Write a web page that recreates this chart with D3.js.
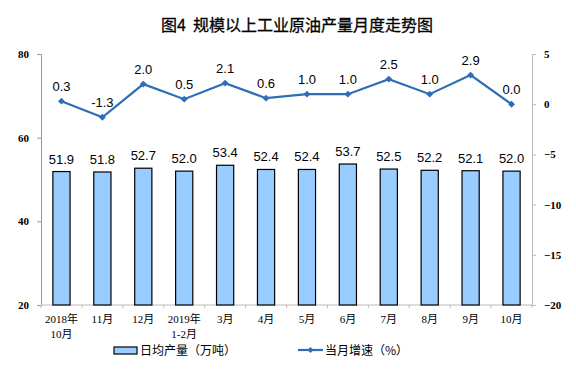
<!DOCTYPE html>
<html lang="zh">
<head>
<meta charset="UTF-8">
<title>图4 规模以上工业原油产量月度走势图</title>
<script src="https://d3js.org/d3.v7.min.js"></script>
<style>
  body { margin: 0; background: #fff; }
  .tick text { font-family: "Liberation Serif", "Noto Sans CJK SC", serif; font-size: 11px; font-weight: bold; }
</style>
</head>
<body>
<script>
// data
const months = ["2018年\n10月", "11月", "12月", "2019年\n1-2月", "3月", "4月", "5月", "6月", "7月", "8月", "9月", "10月"];
const output = [51.9, 51.8, 52.7, 52.0, 53.4, 52.4, 52.4, 53.7, 52.5, 52.2, 52.1, 52.0];
const growth = [0.3, -1.3, 2.0, 0.5, 2.1, 0.6, 1.0, 1.0, 2.5, 1.0, 2.9, 0.0];
const leftTicks = [20, 40, 60, 80];
const rightTicks = [5, 0, -5, -10, -15, -20];

const W = 576, H = 384;
const m = { left: 41, right: 44, top: 54, bottom: 79 };

const svg = d3.select("body").append("svg")
  .attr("width", W).attr("height", H);

const x = d3.scaleBand().domain(months).range([m.left, W - m.right]).paddingInner(0.58).paddingOuter(0.29);
const yL = d3.scaleLinear().domain([20, 80]).range([H - m.bottom, m.top]);
const yR = d3.scaleLinear().domain([-20, 5]).range([H - m.bottom, m.top]);

// title
svg.append("text")
  .attr("x", 297).attr("y", 31)
  .attr("text-anchor", "middle")
  .attr("font-family", "'Noto Sans CJK SC', sans-serif")
  .attr("font-size", 16).attr("font-weight", "normal")
  .attr("stroke", "#000").attr("stroke-width", 0.3)
  .text("图4\u00a0 规模以上工业原油产量月度走势图");

// left axis
const axL = svg.append("g").attr("transform", `translate(${m.left},0)`)
  .call(d3.axisLeft(yL).tickValues(leftTicks).tickSize(4).tickPadding(8));
axL.selectAll("path,line").attr("stroke", "#999");
axL.selectAll("text").attr("fill", "#000");

// right axis
const axR = svg.append("g").attr("transform", `translate(${W - m.right},0)`)
  .call(d3.axisRight(yR).tickValues(rightTicks).tickSize(4).tickPadding(8));
axR.selectAll("path,line").attr("stroke", "#bbb");
axR.selectAll("text").attr("fill", "#000");

// bottom axis
const axB = svg.append("g").attr("transform", `translate(0,${H - m.bottom})`);
axB.append("line").attr("x1", m.left).attr("x2", W - m.right).attr("stroke", "#bbb");
axB.selectAll("line.t").data(d3.range(months.length + 1)).join("line")
  .attr("class", "t")
  .attr("x1", i => m.left + i * (W - m.left - m.right) / months.length)
  .attr("x2", i => m.left + i * (W - m.left - m.right) / months.length)
  .attr("y1", 0).attr("y2", 3).attr("stroke", "#bbb");
axB.selectAll("text").data(months).join("text")
  .attr("x", d => x(d) + x.bandwidth() / 2)
  .attr("y", 18)
  .attr("text-anchor", "middle")
  .attr("font-family", "'Liberation Serif', 'Noto Sans CJK SC', serif")
  .attr("font-size", 11)
  .attr("font-weight", "normal")
  .each(function (d) {
    d.split("\n").forEach((s, i) => {
      d3.select(this).append("tspan")
        .attr("x", x(d) + x.bandwidth() / 2)
        .attr("dy", i === 0 ? 0 : 15)
        .text(s);
    });
  });

// bars
svg.selectAll("rect.bar").data(output).join("rect")
  .attr("class", "bar")
  .attr("x", (d, i) => x(months[i]))
  .attr("width", x.bandwidth())
  .attr("y", d => yL(d))
  .attr("height", d => yL(20) - yL(d))
  .attr("fill", "#99CCFF").attr("stroke", "#000").attr("stroke-width", 1.2);

svg.selectAll("text.bl").data(output).join("text")
  .attr("class", "bl")
  .attr("x", (d, i) => x(months[i]) + x.bandwidth() / 2)
  .attr("y", d => yL(d) - 8)
  .attr("text-anchor", "middle")
  .attr("font-family", "'Liberation Sans', Arial, sans-serif")
  .attr("font-size", 13)
  .text(d => d.toFixed(1));

// line
const cx = (d, i) => x(months[i]) + x.bandwidth() / 2;
svg.append("path").datum(growth)
  .attr("fill", "none").attr("stroke", "#2E6DB8").attr("stroke-width", 2.2)
  .attr("d", d3.line().x(cx).y(d => yR(d)));

svg.selectAll("path.mk").data(growth).join("path")
  .attr("class", "mk")
  .attr("transform", (d, i) => `translate(${cx(d, i)},${yR(d)})`)
  .attr("d", d3.symbol(d3.symbolDiamond2, 30))
  .attr("fill", "#2E6DB8");

svg.selectAll("text.ll").data(growth).join("text")
  .attr("class", "ll")
  .attr("x", cx)
  .attr("y", d => yR(d) - 10)
  .attr("text-anchor", "middle")
  .attr("font-family", "'Liberation Sans', Arial, sans-serif")
  .attr("font-size", 13)
  .text(d => d.toFixed(1));

// legend
const lg = svg.append("g").attr("font-family", "'Noto Sans CJK SC', sans-serif").attr("font-size", 12);
lg.append("rect").attr("x", 114).attr("y", 347).attr("width", 23).attr("height", 7)
  .attr("fill", "#99CCFF").attr("stroke", "#000").attr("stroke-width", 1.2);
lg.append("text").attr("x", 140).attr("y", 355).text("日均产量（万吨）");
lg.append("line").attr("x1", 298).attr("x2", 323).attr("y1", 350).attr("y2", 350)
  .attr("stroke", "#2E6DB8").attr("stroke-width", 2.2);
lg.append("path").attr("transform", "translate(310.5,350)")
  .attr("d", d3.symbol(d3.symbolDiamond2, 24)).attr("fill", "#2E6DB8");
lg.append("text").attr("x", 325).attr("y", 355).text("当月增速（%）");
</script>
</body>
</html>
